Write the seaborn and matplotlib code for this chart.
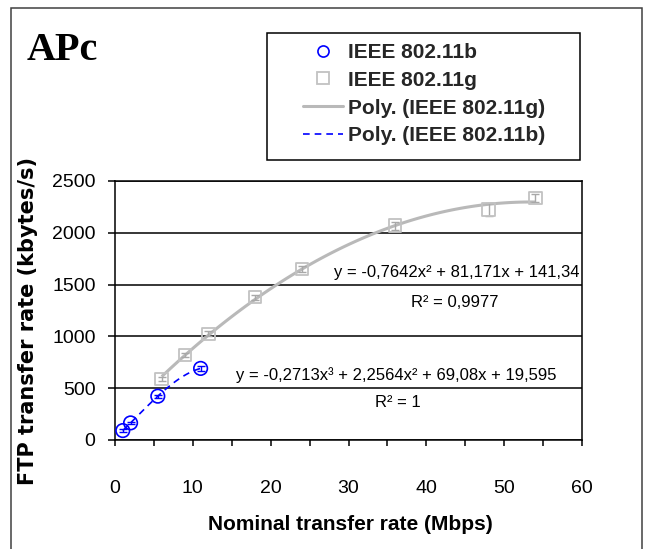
import numpy as np
import pandas as pd
import seaborn as sns
import matplotlib
matplotlib.use("Agg")
import matplotlib.pyplot as plt
from matplotlib import font_manager
from matplotlib.lines import Line2D
from matplotlib.patches import Rectangle
from matplotlib.ticker import MultipleLocator

# ---- data ----
rate_b = [1, 2, 5.5, 11]
ftp_b = [91, 165, 423, 691]
err_b = [12, 10, 15, 25]

rate_g = [6, 9, 12, 18, 24, 36, 48, 54]
ftp_g = [587, 822, 1025, 1379, 1650, 2069, 2223, 2336]
err_g = [20, 20, 25, 25, 30, 40, 60, 40]

x_ticks = [0, 10, 20, 30, 40, 50, 60]
y_ticks = [0, 500, 1000, 1500, 2000, 2500]

series_labels = ["IEEE 802.11b", "IEEE 802.11g", "Poly. (IEEE 802.11g)", "Poly. (IEEE 802.11b)"]
eq_g = "y = -0,7642x² + 81,171x + 141,34"
r2_g = "R² = 0,9977"
eq_b = "y = -0,2713x³ + 2,2564x² + 69,08x + 19,595"
r2_b = "R² = 1"

df_b = pd.DataFrame({"rate": rate_b, "ftp": ftp_b})
df_g = pd.DataFrame({"rate": rate_g, "ftp": ftp_g})

sns.set_theme(style="white")
names = {f.name for f in font_manager.fontManager.ttflist}
HAS_NARROW = "Liberation Sans Narrow" in names
NARROW = "Liberation Sans Narrow" if HAS_NARROW else "Liberation Sans"
plt.rcParams["font.family"] = ["Liberation Sans", "DejaVu Sans"]

W, H = 649, 549
fig = plt.figure(figsize=(W / 100, H / 100), dpi=100)
ax = fig.add_axes([115 / W, (H - 440) / H, (582 - 115) / W, (440 - 181) / H])

BLUE = "#0000ff"
GREY_LINE = "#b9b9b9"
GREY_MK = "#c2c2c2"

# trendlines (polynomial fits done by seaborn)
sns.regplot(data=df_g, x="rate", y="ftp", order=2, ci=None, scatter=False,
            color=GREY_LINE, line_kws=dict(lw=2.2, solid_capstyle="butt"), ax=ax)
sns.regplot(data=df_b, x="rate", y="ftp", order=3, ci=None, scatter=False,
            color=BLUE, line_kws=dict(lw=1.2, ls=(0, (4, 3))), ax=ax)

# error bars
ax.errorbar(rate_g, ftp_g, yerr=err_g, fmt="none", ecolor="#a8a8a8", elinewidth=1, capsize=3, zorder=3)
ax.errorbar(rate_b, ftp_b, yerr=err_b, fmt="none", ecolor=BLUE, elinewidth=1, capsize=3, zorder=3)

# markers
sns.scatterplot(data=df_g, x="rate", y="ftp", marker="s", s=80, fc="none", ec=GREY_MK,
                linewidth=1.3, ax=ax, zorder=4)
sns.scatterplot(data=df_b, x="rate", y="ftp", marker="o", s=95, fc="none", ec=BLUE,
                linewidth=1.2, ax=ax, zorder=4)

ax.set_xlim(0, 60)
ax.set_ylim(0, 2500)
ax.set_xticks(x_ticks)
ax.set_yticks(y_ticks)
ax.xaxis.set_minor_locator(MultipleLocator(5))
ax.set_xticklabels([str(t) for t in x_ticks])
ax.set_yticklabels([str(t) for t in y_ticks])

ax.yaxis.grid(True, color="black", lw=1.1)
ax.xaxis.grid(False)
ax.set_axisbelow(True)
for s in ax.spines.values():
    s.set_color("black")
    s.set_linewidth(1.1)

ax.tick_params(axis="x", which="both", bottom=True, direction="out", length=4, width=1.1,
               color="black", pad=25)
ax.tick_params(axis="y", which="major", left=True, direction="out", length=5, width=1.1,
               color="black", pad=9)
tick_size = 16 if HAS_NARROW else 14
for lbl in ax.get_xticklabels() + ax.get_yticklabels():
    lbl.set_fontfamily(NARROW)
    lbl.set_fontsize(tick_size)
    lbl.set_color("black")

# axis labels
ax.set_xlabel("Nominal transfer rate (Mbps)", fontfamily=NARROW, fontweight="bold",
              fontsize=18 if HAS_NARROW else 15, color="black")
ax.xaxis.label.set_va("center")
ax.xaxis.set_label_coords((350 - 115) / 467, (440 - 524) / 259)
ax.set_ylabel("FTP transfer rate (kbytes/s)", fontfamily="DejaVu Sans", fontweight="bold",
              fontsize=15, color="black")
ax.yaxis.label.set_va("center")
ax.yaxis.set_label_coords((28 - 115) / 467, (440 - 321) / 259)

# trendline equations
eq_size = 14 if HAS_NARROW else 12
ax.text(43.9, 1614, eq_g, ha="center", va="center", fontfamily=NARROW, fontsize=eq_size, color="black")
ax.text(43.7, 1324, r2_g, ha="center", va="center", fontfamily=NARROW, fontsize=eq_size, color="black")
ax.text(36.1, 628, eq_b, ha="center", va="center", fontfamily=NARROW, fontsize=eq_size, color="black")
ax.text(36.4, 358, r2_b, ha="center", va="center", fontfamily=NARROW, fontsize=eq_size, color="black")

# title
fig.text(27 / W, 1 - 60 / H, "APc", fontfamily="Liberation Serif", fontweight="bold",
         fontsize=29, va="baseline", ha="left", color="black")

# outer chart frame
fig.add_artist(Rectangle((11 / W, -0.05), (642 - 11) / W, 1 - 8 / H + 0.05,
                         transform=fig.transFigure, fill=False, ec="#404040", lw=1.1))
# legend frame
fig.add_artist(Rectangle((267 / W, 1 - 160 / H), (580 - 267) / W, (160 - 33) / H,
                         transform=fig.transFigure, fill=False, ec="black", lw=1.1))

handles = [
    Line2D([], [], marker="o", ls="none", mfc="none", mec=BLUE, ms=8, mew=1.2),
    Line2D([], [], marker="s", ls="none", mfc="none", mec=GREY_MK, ms=9, mew=1.3),
    Line2D([], [], color=GREY_LINE, lw=2.2),
    Line2D([], [], color=BLUE, lw=1.2, ls=(0, (4, 3))),
]
fig.legend(handles, series_labels, loc="upper left", bbox_to_anchor=(303 / W, 1 - 43 / H),
           bbox_transform=fig.transFigure, frameon=False, borderpad=0, borderaxespad=0,
           handlelength=1.9, handletextpad=0.25, labelspacing=0.42,
           prop=dict(family="Liberation Sans", weight="bold", size=15))

fig.savefig("out.png", dpi=100)
